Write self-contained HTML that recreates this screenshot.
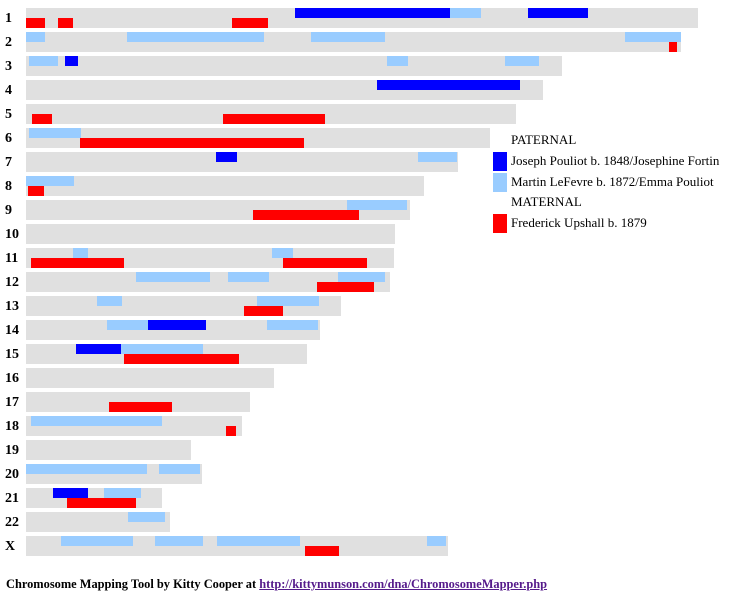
<!DOCTYPE html>
<html><head><meta charset="utf-8"><style>
body{margin:0;background:#fff;width:732px;height:595px;position:relative;overflow:hidden;font-family:"Liberation Serif",serif}
.r{position:absolute;left:0;height:20px;width:732px}
.r>div{position:absolute}
.g{left:26px;top:0;height:20px;background:#e0e0e0}
.n{left:5px;top:3px;font-weight:bold;font-size:14px;line-height:16px}
.t{top:0;height:10px}.b{top:10px;height:10px}
.B{background:#0000ff}.L{background:#99ccff}.R{background:#ff0000}
.lg{position:absolute;font-size:13px;left:511px}
.sq{position:absolute;left:493px;width:14px;height:19px}
</style></head><body>
<div class="r" style="top:8px"><div class="n">1</div><div class="g" style="width:672px"></div>
<div class="t B" style="left:295px;width:155px"></div><div class="t L" style="left:450px;width:31px"></div><div class="t B" style="left:528px;width:60px"></div>
<div class="b R" style="left:26px;width:19px"></div><div class="b R" style="left:58px;width:15px"></div><div class="b R" style="left:232px;width:36px"></div></div>
<div class="r" style="top:32px"><div class="n">2</div><div class="g" style="width:655px"></div>
<div class="t L" style="left:26px;width:19px"></div><div class="t L" style="left:127px;width:137px"></div><div class="t L" style="left:311px;width:74px"></div><div class="t L" style="left:625px;width:56px"></div><div class="b R" style="left:669px;width:8px"></div></div>
<div class="r" style="top:56px"><div class="n">3</div><div class="g" style="width:536px"></div>
<div class="t L" style="left:29px;width:29px"></div><div class="t B" style="left:65px;width:13px"></div><div class="t L" style="left:387px;width:21px"></div><div class="t L" style="left:505px;width:34px"></div></div>
<div class="r" style="top:80px"><div class="n">4</div><div class="g" style="width:517px"></div>
<div class="t B" style="left:377px;width:143px"></div></div>
<div class="r" style="top:104px"><div class="n">5</div><div class="g" style="width:490px"></div>
<div class="b R" style="left:32px;width:20px"></div><div class="b R" style="left:223px;width:102px"></div></div>
<div class="r" style="top:128px"><div class="n">6</div><div class="g" style="width:464px"></div>
<div class="t L" style="left:29px;width:52px"></div><div class="b R" style="left:80px;width:224px"></div></div>
<div class="r" style="top:152px"><div class="n">7</div><div class="g" style="width:432px"></div>
<div class="t B" style="left:216px;width:21px"></div><div class="t L" style="left:418px;width:39px"></div></div>
<div class="r" style="top:176px"><div class="n">8</div><div class="g" style="width:398px"></div>
<div class="t L" style="left:26px;width:48px"></div><div class="b R" style="left:28px;width:16px"></div></div>
<div class="r" style="top:200px"><div class="n">9</div><div class="g" style="width:384px"></div>
<div class="t L" style="left:347px;width:60px"></div><div class="b R" style="left:253px;width:106px"></div></div>
<div class="r" style="top:224px"><div class="n">10</div><div class="g" style="width:369px"></div></div>
<div class="r" style="top:248px"><div class="n">11</div><div class="g" style="width:368px"></div>
<div class="t L" style="left:73px;width:15px"></div><div class="t L" style="left:272px;width:21px"></div><div class="b R" style="left:31px;width:93px"></div><div class="b R" style="left:283px;width:84px"></div></div>
<div class="r" style="top:272px"><div class="n">12</div><div class="g" style="width:364px"></div>
<div class="t L" style="left:136px;width:74px"></div><div class="t L" style="left:228px;width:41px"></div><div class="t L" style="left:338px;width:47px"></div><div class="b R" style="left:317px;width:57px"></div></div>
<div class="r" style="top:296px"><div class="n">13</div><div class="g" style="width:315px"></div>
<div class="t L" style="left:97px;width:25px"></div><div class="t L" style="left:257px;width:62px"></div><div class="b R" style="left:244px;width:39px"></div></div>
<div class="r" style="top:320px"><div class="n">14</div><div class="g" style="width:294px"></div>
<div class="t L" style="left:107px;width:41px"></div><div class="t B" style="left:148px;width:58px"></div><div class="t L" style="left:267px;width:51px"></div></div>
<div class="r" style="top:344px"><div class="n">15</div><div class="g" style="width:281px"></div>
<div class="t B" style="left:76px;width:45px"></div><div class="t L" style="left:121px;width:82px"></div><div class="b R" style="left:124px;width:115px"></div></div>
<div class="r" style="top:368px"><div class="n">16</div><div class="g" style="width:248px"></div></div>
<div class="r" style="top:392px"><div class="n">17</div><div class="g" style="width:224px"></div>
<div class="b R" style="left:109px;width:63px"></div></div>
<div class="r" style="top:416px"><div class="n">18</div><div class="g" style="width:216px"></div>
<div class="t L" style="left:31px;width:131px"></div><div class="b R" style="left:226px;width:10px"></div></div>
<div class="r" style="top:440px"><div class="n">19</div><div class="g" style="width:165px"></div></div>
<div class="r" style="top:464px"><div class="n">20</div><div class="g" style="width:176px"></div>
<div class="t L" style="left:26px;width:121px"></div><div class="t L" style="left:159px;width:41px"></div></div>
<div class="r" style="top:488px"><div class="n">21</div><div class="g" style="width:136px"></div>
<div class="t B" style="left:53px;width:35px"></div><div class="t L" style="left:104px;width:37px"></div><div class="b R" style="left:67px;width:69px"></div></div>
<div class="r" style="top:512px"><div class="n">22</div><div class="g" style="width:144px"></div>
<div class="t L" style="left:128px;width:37px"></div></div>
<div class="r" style="top:536px"><div class="n">X</div><div class="g" style="width:422px"></div>
<div class="t L" style="left:61px;width:72px"></div><div class="t L" style="left:155px;width:48px"></div><div class="t L" style="left:217px;width:83px"></div><div class="t L" style="left:427px;width:19px"></div><div class="b R" style="left:305px;width:34px"></div></div>

<div class="lg" style="top:132px">PATERNAL</div>
<div class="sq B" style="top:152px"></div><div class="lg" style="top:153px">Joseph Pouliot b. 1848/Josephine Fortin</div>
<div class="sq L" style="top:173px"></div><div class="lg" style="top:174px">Martin LeFevre b. 1872/Emma Pouliot</div>
<div class="lg" style="top:194px">MATERNAL</div>
<div class="sq R" style="top:214px"></div><div class="lg" style="top:215px">Frederick Upshall b. 1879</div>

<div style="position:absolute;left:6px;top:577px;font-size:12.4px;font-weight:bold">Chromosome Mapping Tool by Kitty Cooper at <span style="color:#551a8b;text-decoration:underline">http://kittymunson.com/dna/ChromosomeMapper.php</span></div>
</body></html>
